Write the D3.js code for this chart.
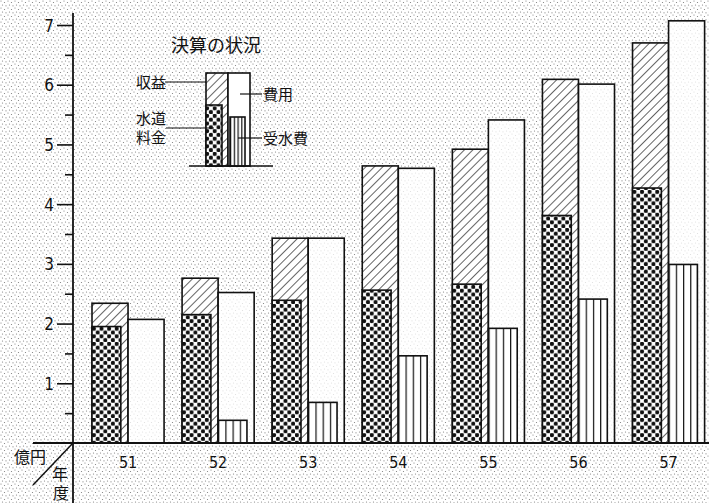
<!DOCTYPE html>
<html lang="ja">
<head>
  <meta charset="UTF-8">
  <title>決算の状況</title>
  <style>
    html, body {
      margin: 0;
      padding: 0;
      overflow: hidden;
      background-color: #fff;
    }

    /* scan-like stipple for the paper */
    svg {
      display: block;
      background-image: url("data:image/svg+xml,%3Csvg xmlns='http://www.w3.org/2000/svg' width='7' height='7'%3E%3Cg fill='%237a7a7a'%3E%3Ccircle cx='1' cy='1' r='0.6'/%3E%3Ccircle cx='4.5' cy='2.5' r='0.6'/%3E%3Ccircle cx='2.5' cy='5' r='0.6'/%3E%3Ccircle cx='6' cy='5.8' r='0.6'/%3E%3C/g%3E%3C/svg%3E");
    }

    text {
      fill: #111;
    }

    .num {
      font-family: "Liberation Sans Narrow", "DejaVu Sans Condensed", "Roboto", sans-serif;
    }

    .jp {
      font-family: "Noto Sans CJK JP", sans-serif;
    }

    .bar {
      stroke: #111;
      stroke-width: 1.6;
    }
  </style>
</head>
<body>
  <script src="https://d3js.org/d3.v7.min.js"></script>
  <script>
    const width = 709,
          height = 503

    // 単位: 億円
    const years = ['51', '52', '53', '54', '55', '56', '57']
    const revenue = [2.34, 2.76, 3.43, 4.64, 4.92, 6.09, 6.70]        // 収益
    const waterCharges = [1.95, 2.15, 2.39, 2.56, 2.66, 3.81, 4.27]   // 水道料金
    const expense = [2.07, 2.52, 3.43, 4.60, 5.41, 6.01, 7.07]        // 費用
    const waterPurchase = [0, 0.38, 0.68, 1.46, 1.92, 2.41, 2.99]     // 受水費
    const yTicks = [1, 2, 3, 4, 5, 6, 7]
    const yMinorTicks = [0.5, 1.5, 2.5, 3.5, 4.5, 5.5, 6.5]

    const rows = years.map((year, i) => ({
      year,
      revenue: revenue[i],
      waterCharges: waterCharges[i],
      expense: expense[i],
      waterPurchase: waterPurchase[i]
    }))

    const axisX = 73,
          baseY = 443

    const y = d3.scaleLinear()
      .domain([0, 7])
      .range([baseY, 25])

    const x = d3.scaleBand()
      .domain(years)
      .range([92, 704.6])
      .paddingInner(0.2)
      .paddingOuter(0)
      .align(0)

    // 収益 / 費用 side by side inside each year's band
    const sub = d3.scaleBand()
      .domain(['revenue', 'expense'])
      .range([0, x.bandwidth()])

    const innerWidth = sub.bandwidth() * 0.8

    const svg = d3.select('body')
      .append('svg')
      .attr('width', width)
      .attr('height', height)

    const defs = svg.append('defs')

    const hatch = defs.append('pattern')
      .attr('id', 'hatch')
      .attr('patternUnits', 'userSpaceOnUse')
      .attr('width', 6)
      .attr('height', 6)
      .attr('patternTransform', 'rotate(45)')
    hatch.append('rect').attr('width', 6).attr('height', 6).attr('fill', '#fff')
    hatch.append('line')
      .attr('x1', 0).attr('y1', 0).attr('x2', 0).attr('y2', 6)
      .attr('stroke', '#111').attr('stroke-width', 1.3)

    const dots = defs.append('pattern')
      .attr('id', 'dots')
      .attr('patternUnits', 'userSpaceOnUse')
      .attr('width', 7.6)
      .attr('height', 7.6)
    dots.append('rect').attr('width', 7.6).attr('height', 7.6).attr('fill', '#fff')
    ;[[1.9, 1.9], [5.7, 5.7]].forEach(([cx, cy]) => {
      dots.append('circle')
        .attr('cx', cx).attr('cy', cy).attr('r', 2.1)
        .attr('fill', '#111')
    })

    // vertical rules, four columns per bar
    const vlines = defs.append('pattern')
      .attr('id', 'vlines')
      .attr('patternUnits', 'objectBoundingBox')
      .attr('width', 0.25)
      .attr('height', 1)
    vlines.append('rect').attr('width', 20).attr('height', 600).attr('fill', '#fff')
    vlines.append('line')
      .attr('x1', 0).attr('y1', 0).attr('x2', 0).attr('y2', 600)
      .attr('stroke', '#111').attr('stroke-width', 2.4)

    // bars
    const groups = svg.append('g')
      .selectAll('g')
      .data(rows)
      .join('g')
        .attr('transform', d => `translate(${x(d.year)},0)`)

    groups.append('rect')
      .attr('class', 'bar')
      .attr('x', sub('revenue'))
      .attr('y', d => y(d.revenue))
      .attr('width', sub.bandwidth())
      .attr('height', d => y(0) - y(d.revenue))
      .attr('fill', 'url(#hatch)')

    groups.append('rect')
      .attr('class', 'bar')
      .attr('x', sub('revenue'))
      .attr('y', d => y(d.waterCharges))
      .attr('width', innerWidth)
      .attr('height', d => y(0) - y(d.waterCharges))
      .attr('fill', 'url(#dots)')

    groups.append('rect')
      .attr('class', 'bar')
      .attr('x', sub('expense'))
      .attr('y', d => y(d.expense))
      .attr('width', sub.bandwidth())
      .attr('height', d => y(0) - y(d.expense))
      .attr('fill', '#fff')
      .attr('fill-opacity', 0.75)

    groups.filter(d => d.waterPurchase > 0)
      .append('rect')
      .attr('class', 'bar')
      .attr('x', sub('expense'))
      .attr('y', d => y(d.waterPurchase))
      .attr('width', innerWidth)
      .attr('height', d => y(0) - y(d.waterPurchase))
      .attr('fill', 'url(#vlines)')

    // year labels under the bars
    svg.append('g')
      .selectAll('text')
      .data(rows)
      .join('text')
        .attr('class', 'num')
        .attr('x', d => x(d.year) + sub('expense'))
        .attr('y', 468)
        .attr('text-anchor', 'middle')
        .attr('font-size', 16)
        .text(d => d.year)

    // y axis
    const yAxis = svg.append('g')
      .attr('transform', `translate(${axisX},0)`)
      .call(d3.axisLeft(y).tickValues(yTicks).tickSize(16).tickPadding(3).tickFormat(d3.format('d')))
      .attr('font-size', null)
      .attr('font-family', null)
    yAxis.select('.domain').remove()
    yAxis.selectAll('line').attr('stroke', '#111').attr('stroke-width', 1.6)
    yAxis.selectAll('text')
      .attr('class', 'num')
      .attr('font-size', 17)
      .attr('fill', '#111')
      .attr('dy', '0.36em')

    const yMinor = svg.append('g')
      .attr('transform', `translate(${axisX},0)`)
      .call(d3.axisLeft(y).tickValues(yMinorTicks).tickSize(8).tickFormat(''))
    yMinor.select('.domain').remove()
    yMinor.selectAll('text').remove()
    yMinor.selectAll('line').attr('stroke', '#111').attr('stroke-width', 1.6)

    svg.append('line')
      .attr('x1', axisX).attr('x2', axisX)
      .attr('y1', 13).attr('y2', height)
      .attr('stroke', '#111').attr('stroke-width', 1.8)

    svg.append('line')
      .attr('x1', 33).attr('x2', width)
      .attr('y1', baseY).attr('y2', baseY)
      .attr('stroke', '#111').attr('stroke-width', 1.8)

    // corner: 億円 / 年度
    svg.append('line')
      .attr('x1', axisX).attr('y1', baseY)
      .attr('x2', 33).attr('y2', 485)
      .attr('stroke', '#111').attr('stroke-width', 1.5)

    const corner = svg.append('g').attr('class', 'jp').attr('font-size', 16)
    corner.append('text').attr('x', 14).attr('y', 463).text('億円')
    corner.append('text').attr('x', 52).attr('y', 480).text('年')
    corner.append('text').attr('x', 53).attr('y', 499).text('度')

    // legend
    const legend = svg.append('g').attr('class', 'jp')

    legend.append('text')
      .attr('x', 171)
      .attr('y', 52)
      .attr('font-size', 18)
      .text('決算の状況')

    legend.append('rect').attr('class', 'bar')
      .attr('x', 206).attr('y', 73).attr('width', 22).attr('height', 93)
      .attr('fill', 'url(#hatch)')
    legend.append('rect').attr('class', 'bar')
      .attr('x', 206).attr('y', 105).attr('width', 16).attr('height', 61)
      .attr('fill', 'url(#dots)')
    legend.append('rect').attr('class', 'bar')
      .attr('x', 228).attr('y', 73).attr('width', 22).attr('height', 93)
      .attr('fill', '#fff')
    legend.append('rect').attr('class', 'bar')
      .attr('x', 230).attr('y', 117).attr('width', 15).attr('height', 49)
      .attr('fill', 'url(#vlines)')
    legend.append('line')
      .attr('x1', 189).attr('x2', 273).attr('y1', 166).attr('y2', 166)
      .attr('stroke', '#111').attr('stroke-width', 1.6)

    const leaders = [
      [165, 82, 206, 82],
      [166, 128, 214, 128],
      [240, 94, 262, 94],
      [238, 138, 262, 138]
    ]
    leaders.forEach(([x1, y1, x2, y2]) => {
      legend.append('line')
        .attr('x1', x1).attr('y1', y1).attr('x2', x2).attr('y2', y2)
        .attr('stroke', '#111').attr('stroke-width', 1.2)
    })

    const legendText = legend.append('g').attr('font-size', 15)
    legendText.append('text').attr('x', 136).attr('y', 88).text('収益')
    legendText.append('text').attr('x', 136).attr('y', 124).text('水道')
    legendText.append('text').attr('x', 136).attr('y', 143).text('料金')
    legendText.append('text').attr('x', 263).attr('y', 100).text('費用')
    legendText.append('text').attr('x', 263).attr('y', 144).text('受水費')
  </script>
</body>
</html>
